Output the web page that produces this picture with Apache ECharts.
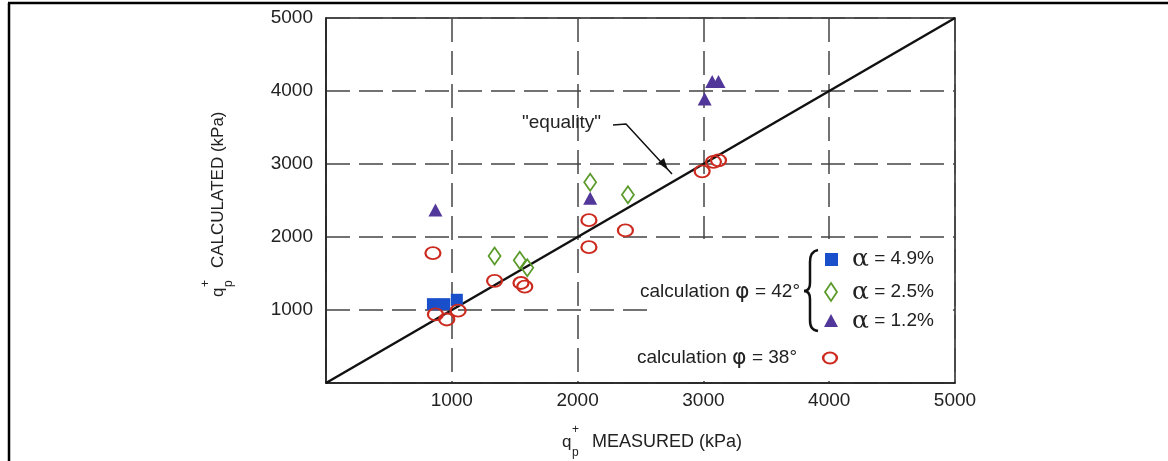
<!DOCTYPE html>
<html>
<head>
<meta charset="utf-8">
<script src="https://cdn.jsdelivr.net/npm/echarts@6/dist/echarts.min.js"></script>
<style>
  html, body { margin: 0; padding: 0; background: #fff; }
  #chart { width: 1168px; height: 461px; }
</style>
</head>
<body>
<div id="chart"></div>
<script>
// measured / calculated pairs (kPa)
const alpha49 = [[850, 1080], [940, 1080], [1040, 1140]];
const alpha25 = [[1340, 1740], [1540, 1680], [1600, 1580], [2100, 2750], [2400, 2580]];
const alpha12 = [[870, 2370], [2100, 2530], [3010, 3890], [3070, 4130], [3120, 4130]];
const phi38 = [
  [850, 1780], [870, 940], [960, 870], [1050, 990], [1340, 1400],
  [1550, 1370], [1580, 1320], [2090, 2230], [2090, 1860], [2380, 2090],
  [2990, 2900], [3080, 3030], [3120, 3050]
];
const equality = [[0, 0], [5000, 5000]];
const axisTicks = [0, 1000, 2000, 3000, 4000, 5000];

const FONT = '"Liberation Sans", Arial, sans-serif';
const ellipse = 'path://M0,5a7,5 0 1,0 14,0a7,5 0 1,0 -14,0z';

const chart = echarts.init(document.getElementById('chart'));

const dashed = { show: true, lineStyle: { type: [24, 9], color: '#444', width: 1.5 } };

const option = {
  animation: false,
  backgroundColor: '#fff',
  grid: { left: 326, right: 213, top: 18, bottom: 78, show: true, borderColor: '#222', borderWidth: 1.5 },
  xAxis: {
    type: 'value', min: axisTicks[0], max: axisTicks[axisTicks.length - 1], interval: 1000,
    axisLine: { show: true, lineStyle: { color: '#222', width: 1.5 } },
    axisTick: { show: false },
    axisLabel: { margin: 8, color: '#222', fontSize: 19, fontFamily: FONT,
      formatter: v => (v === 0 ? '' : v) },
    splitLine: dashed
  },
  yAxis: {
    type: 'value', min: axisTicks[0], max: axisTicks[axisTicks.length - 1], interval: 1000,
    axisLine: { show: true, lineStyle: { color: '#222', width: 1.5 } },
    axisTick: { show: false },
    axisLabel: { margin: 13, color: '#222', fontSize: 19, fontFamily: FONT,
      formatter: v => (v === 0 ? '' : v) },
    splitLine: dashed
  },
  series: [
    { name: 'equality', type: 'line', data: equality, showSymbol: false, z: 3,
      lineStyle: { color: '#111', width: 2.5 } },
    { name: 'α = 4.9%', type: 'scatter', data: alpha49, symbol: 'rect', symbolSize: 12, z: 4,
      itemStyle: { color: '#1a4fcc', opacity: 1 } },
    { name: 'α = 2.5%', type: 'scatter', data: alpha25, symbol: 'diamond', symbolSize: [12, 17], z: 4,
      itemStyle: { color: 'rgba(0,0,0,0)', borderColor: '#5a9a2a', borderWidth: 1.8, opacity: 1 } },
    { name: 'α = 1.2%', type: 'scatter', data: alpha12, symbol: 'triangle', symbolSize: [14, 13], z: 4,
      itemStyle: { color: '#52379a', opacity: 1 } },
    { name: 'φ = 38°', type: 'scatter', data: phi38, symbol: ellipse, symbolSize: [15, 12], z: 4,
      itemStyle: { color: 'rgba(0,0,0,0)', borderColor: '#cc2a1f', borderWidth: 2, opacity: 1 } }
  ]
};
chart.setOption(option);

// white area behind the key hides the grid lines there
const p0 = chart.convertToPixel({ gridIndex: 0 }, [2600, 2000]);
const p1 = chart.convertToPixel({ gridIndex: 0 }, [5000, 0]);

const txt = (x, y, text, extra) => Object.assign({
  type: 'text', x: x, y: y, z: 10,
  style: Object.assign({ text: text, font: '19px ' + FONT, fill: '#222', verticalAlign: 'middle' },
    extra || {})
});
const greekRich = {
  a: { fontSize: 25, fontFamily: '"DejaVu Serif", serif', fill: '#222' },
  f: { fontSize: 22, fontFamily: '"DejaVu Sans", sans-serif', fill: '#222' }
};
const greek = (x, y, t, extra) => txt(x, y, t, Object.assign({ rich: greekRich }, extra || {}));
const stroke = { stroke: '#111', lineWidth: 2.5, fill: null };

chart.setOption({
  graphic: [
    // frame of the figure
    { type: 'line', z: 10, shape: { x1: 9, y1: 3, x2: 9, y2: 461 }, style: { stroke: '#000', lineWidth: 2.5 } },
    { type: 'line', z: 10, shape: { x1: 8, y1: 3, x2: 1168, y2: 3 }, style: { stroke: '#000', lineWidth: 2.5 } },
    { type: 'rect', z: 1, shape: { x: p0[0], y: p0[1] + 2, width: p1[0] - p0[0] - 2, height: p1[1] - p0[1] - 4 },
      style: { fill: '#fff' } },

    // "equality" label with arrow
    txt(522, 123, '"equality"'),
    { type: 'polyline', z: 10, shape: { points: [[613, 125], [626, 124], [672, 174]] },
      style: { stroke: '#111', lineWidth: 1.5, fill: null } },
    { type: 'polygon', z: 10, shape: { points: [[668, 170], [658, 163], [664, 158]] },
      style: { fill: '#111' } },

    // key
    greek(800, 292, 'calculation {f|φ} = 42°', { align: 'right' }),
    { type: 'bezierCurve', z: 10, shape: { x1: 818, y1: 250, cpx1: 812, cpy1: 251, cpx2: 810, cpy2: 255, x2: 810, y2: 262 }, style: stroke },
    { type: 'line', z: 10, shape: { x1: 810, y1: 262, x2: 810, y2: 283 }, style: stroke },
    { type: 'bezierCurve', z: 10, shape: { x1: 810, y1: 283, cpx1: 810, cpy1: 288, cpx2: 808, cpy2: 291, x2: 804, y2: 291 }, style: stroke },
    { type: 'bezierCurve', z: 10, shape: { x1: 804, y1: 291, cpx1: 808, cpy1: 291, cpx2: 810, cpy2: 294, x2: 810, y2: 299 }, style: stroke },
    { type: 'line', z: 10, shape: { x1: 810, y1: 299, x2: 810, y2: 320 }, style: stroke },
    { type: 'bezierCurve', z: 10, shape: { x1: 810, y1: 320, cpx1: 810, cpy1: 327, cpx2: 812, cpy2: 330, x2: 818, y2: 331 }, style: stroke },
    { type: 'rect', z: 10, shape: { x: 825, y: 253, width: 13, height: 13 }, style: { fill: '#1a4fcc' } },
    { type: 'polygon', z: 10, shape: { points: [[831, 283], [837, 292], [831, 301], [825, 292]] },
      style: { fill: null, stroke: '#5a9a2a', lineWidth: 1.8 } },
    { type: 'polygon', z: 10, shape: { points: [[831, 314], [838, 327], [824, 327]] }, style: { fill: '#52379a' } },
    greek(852, 259, '{a|α} = 4.9%'),
    greek(852, 292, '{a|α} = 2.5%'),
    greek(852, 321, '{a|α} = 1.2%'),
    greek(797, 358, 'calculation {f|φ} = 38°', { align: 'right' }),
    { type: 'circle', z: 10, x: 830, y: 358, scaleX: 1.25, shape: { cx: 0, cy: 0, r: 5.5 },
      style: { fill: null, stroke: '#cc2a1f', lineWidth: 2 } },

    // axis titles
    { type: 'group', x: 562, y: 442, children: [
      txt(0, 0, 'q', { font: '17px ' + FONT }),
      txt(10, -12, '+', { font: '12px ' + FONT }),
      txt(10, 11, 'p', { font: '12px ' + FONT }),
      txt(30, 0, 'MEASURED (kPa)', { font: '18px ' + FONT })
    ] },
    { type: 'group', x: 218, y: 297, rotation: Math.PI / 2, children: [
      txt(0, 0, 'q', { font: '17px ' + FONT }),
      txt(10, -12, '+', { font: '12px ' + FONT }),
      txt(10, 11, 'p', { font: '12px ' + FONT }),
      txt(29, 0, 'CALCULATED (kPa)', { font: '17px ' + FONT })
    ] }
  ]
});
</script>
</body>
</html>
